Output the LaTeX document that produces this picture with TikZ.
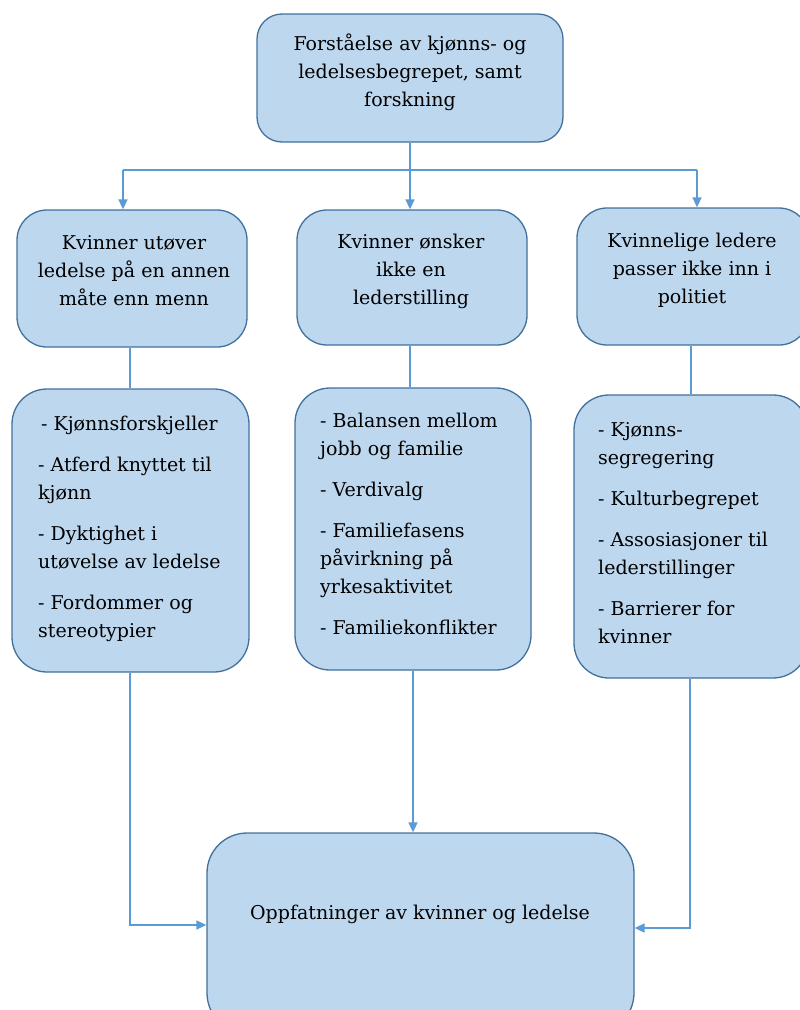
\documentclass[tikz,border=0pt]{standalone}
\usepackage{fontspec}
\setmainfont{DejaVu Serif}
\usetikzlibrary{arrows.meta,calc}
\definecolor{boxfill}{HTML}{BDD7EE}
\definecolor{boxline}{HTML}{41719C}
\definecolor{conline}{HTML}{5B9BD5}
\begin{document}
\begin{tikzpicture}[x=1pt,y=-1pt,
  box/.style={draw=boxline,fill=boxfill,line width=1.3pt,rounded corners=#1,inner sep=0pt},
  box/.default=30pt,
  conn/.style={draw=conline,line width=1.5pt},
  arr/.style={conn,-{Triangle[length=10pt,width=9pt]}},
  txt/.style={font=\fontsize{19}{28}\selectfont,align=center,inner sep=0pt},
  lst/.style={font=\fontsize{19}{28}\selectfont,align=left,inner sep=0pt,anchor=north west}]
\useasboundingbox (0,0) rectangle (800,1010);
\begin{scope}
\clip (0,0) rectangle (800,1010);
% boxes
\node[box=25pt,minimum width=306pt,minimum height=128pt] (top) at (410,78) {};
\node[box,minimum width=230pt,minimum height=137pt] (b1) at (132,278.5) {};
\node[box,minimum width=230pt,minimum height=135pt] (b2) at (412,277.5) {};
\node[box,minimum width=232pt,minimum height=137pt] (b3) at (693,276.5) {};
\node[box=35pt,minimum width=237pt,minimum height=283pt] (c1) at (130.5,530.5) {};
\node[box=35pt,minimum width=236pt,minimum height=282pt] (c2) at (413,529) {};
\node[box=35pt,minimum width=234pt,minimum height=283pt] (c3) at (691,536.5) {};
\node[box=40pt,minimum width=427pt,minimum height=200pt] (d) at (420.5,933) {};
% texts
\node[txt] (ttop) at (410,72) {Forståelse av kjønns- og\\ledelsesbegrepet, samt\\forskning};
\node[txt] (t1) at (134,271) {Kvinner utøver\\ledelse på en annen\\måte enn menn};
\node[txt] (t2) at (411,271) {Kvinner ønsker\\ikke en\\lederstilling};
\node[txt] (t3) at (692,270) {Kvinnelige ledere\\passer ikke inn i\\politiet};
\node[lst] (l1) at (38,416) {\hspace{3pt}- Kjønnsforskjeller\\[13pt]- Atferd knyttet til\\kjønn\\[13pt]- Dyktighet i\\utøvelse av ledelse\\[13pt]- Fordommer og\\stereotypier};
\node[lst] (l2) at (320,413) {- Balansen mellom\\jobb og familie\\[13pt]- Verdivalg\\[13pt]- Familiefasens\\påvirkning på\\yrkesaktivitet\\[13pt]- Familiekonflikter};
\node[lst] (l3) at (598,422) {- Kjønns-\\segregering\\[13pt]- Kulturbegrepet\\[13pt]- Assosiasjoner til\\lederstillinger\\[13pt]- Barrierer for\\kvinner};
\node[txt] (td) at (420,914) {Oppfatninger av kvinner og ledelse};
% connectors
\coordinate (j) at (410,170);
\coordinate (a1) at (123,170);
\coordinate (a3) at (697,170);
\draw[conn] (top.south) -- (j);
\draw[conn] (a1) -- (a3);
\draw[arr] (a1) -- (a1 |- b1.north);
\draw[arr] (j) -- (j |- b2.north);
\draw[arr] (a3) -- (a3 |- b3.north);
\draw[conn] (b1.south -| 130,0) -- (c1.north -| 130,0);
\draw[conn] (b2.south -| 410,0) -- (c2.north -| 410,0);
\draw[conn] (b3.south -| c3.south) -- (c3.north);
\coordinate (e1) at (130,925);
\coordinate (e3) at (690,928);
\draw[arr] (c1.south -| e1) -- (e1) -- (e1 -| d.west);
\draw[arr] (c2.south) -- (c2.south |- d.north);
\draw[arr] (c3.south -| e3) -- (e3) -- (e3 -| d.east);
\end{scope}
\end{tikzpicture}
\end{document}
